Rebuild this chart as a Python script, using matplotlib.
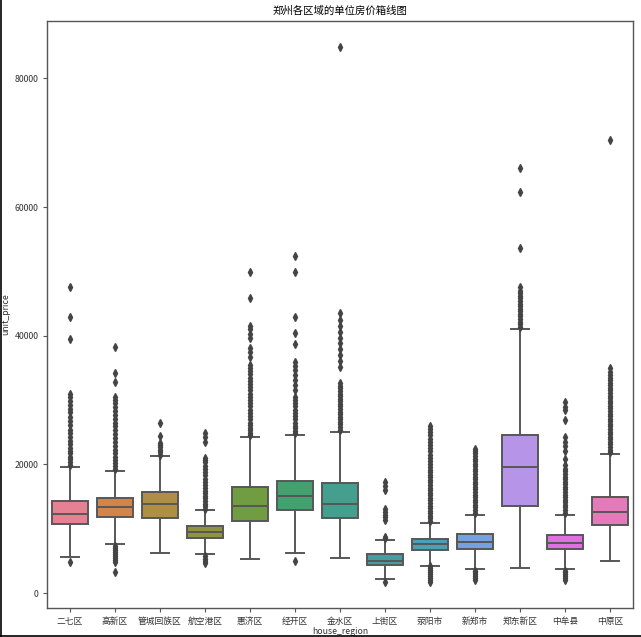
import colorsys
import matplotlib
matplotlib.use('Agg')
import matplotlib.pyplot as plt
from matplotlib.lines import Line2D
import seaborn as sns

# 郑州各区域单位房价 - box statistics
regions = ['二七区', '高新区', '管城回族区', '航空港区', '惠济区', '经开区', '金水区',
           '上街区', '荥阳市', '新郑市', '郑东新区', '中牟县', '中原区']

whislo = [5600, 7600, 6200, 6050, 5350, 6200, 5450, 2200, 4200, 3800, 3900, 3800, 5050]
q1 = [10780, 11870, 11710, 8500, 11200, 12950, 11610, 4300, 6690, 6800, 13580, 6840, 10530]
med = [12330, 13370, 13890, 9490, 13480, 15130, 13840, 5030, 7570, 7980, 19640, 7820, 12600]
q3 = [14310, 14730, 15700, 10420, 16440, 17460, 17060, 6010, 8450, 9130, 24620, 8970, 14980]
whishi = [19600, 19020, 21300, 12860, 24210, 24520, 25080, 8240, 10890, 12180, 41050, 12180, 21570]

fliers = [
    # 二七区
    [4800, 19900, 20300, 20800, 21200, 21700, 22100, 22600, 23100, 23600, 24200, 24800,
     25400, 26100, 26800, 27400, 28100, 28600, 29300, 29900, 30500, 31000, 39450, 42970, 47630],
    # 高新区
    [3300, 4870, 5200, 5500, 5800, 6100, 6400, 6700, 7000, 7300, 19300, 19700, 20200, 20700,
     21200, 21800, 22300, 22900, 23500, 24100, 24700, 25300, 25900, 26500, 27100, 27700,
     28300, 28970, 29500, 30000, 30530, 32860, 34160, 38300],
    # 管城回族区
    [21500, 21900, 22300, 22700, 23000, 23280, 24410, 26430],
    # 航空港区
    [4620, 5000, 5350, 5700, 13100, 13500, 13900, 14300, 14700, 15100, 15500, 15900, 16300,
     16800, 17300, 17800, 18300, 18800, 19300, 19800, 20300, 20700, 21040, 23530, 24200, 24830],
    # 惠济区
    [24500, 24900, 25300, 25700, 26100, 26500, 27000, 27500, 28000, 28500, 29000, 29500,
     30000, 30500, 31000, 31500, 32000, 32500, 33000, 33500, 34000, 34500, 35000, 35450,
     36750, 37400, 38100, 39650, 40300, 41000, 41520, 45820, 49960],
    # 经开区
    [5030, 24800, 25200, 25600, 26000, 26500, 27000, 27500, 28000, 28500, 29000, 29500,
     30000, 30530, 31570, 32300, 33100, 33900, 34700, 35300, 35970, 38720, 40380, 42870,
     49960, 52400],
    # 金水区
    [25400, 25800, 26200, 26600, 27000, 27400, 27800, 28200, 28600, 29000, 29400, 29800,
     30200, 30600, 31000, 31400, 31800, 32200, 32600, 35190, 36000, 37000, 37900, 38800,
     39700, 40600, 41500, 42400, 43490, 84950],
    # 上街区
    [1760, 8500, 8750, 11350, 11800, 12200, 12600, 13000, 16000, 16600, 17300],
    # 荥阳市
    [1760, 2050, 2350, 2650, 2950, 3250, 3550, 3850, 4150, 11200, 11600, 12000, 12400, 12800,
     13200, 13600, 14000, 14400, 14800, 15200, 15600, 16000, 16400, 16800, 17200, 17600,
     18000, 18400, 18800, 19200, 19600, 20000, 20500, 21000, 21500, 22000, 22500, 23000,
     23500, 24000, 24500, 25000, 25500, 26000],
    # 新郑市
    [2020, 2300, 2600, 2900, 3200, 3500, 12500, 12900, 13300, 13700, 14100, 14500, 14900,
     15300, 15700, 16100, 16500, 16900, 17300, 17700, 18100, 18500, 18900, 19300, 19700,
     20100, 20500, 20900, 21300, 21700, 22100, 22440],
    # 郑东新区
    [41400, 41800, 42200, 42600, 43000, 43400, 43800, 44200, 44600, 45000, 45400, 45800,
     46200, 46600, 47000, 47500, 53700, 62400, 66140],
    # 中牟县
    [2020, 2300, 2600, 2900, 3200, 3500, 12500, 12900, 13300, 13700, 14100, 14500, 14900,
     15300, 15700, 16100, 16500, 16900, 17300, 17700, 18100, 18500, 18900, 19300, 19900,
     20800, 22000, 22800, 23500, 24300, 26900, 28460, 28900, 29750],
    # 中原区
    [21900, 22300, 22700, 23100, 23500, 23900, 24300, 24700, 25100, 25500, 25900, 26300,
     26700, 27100, 27500, 27900, 28300, 28700, 29100, 29500, 29900, 30300, 30700, 31100,
     31500, 31900, 32300, 32700, 33100, 33500, 33900, 34300, 34940, 70440],
]

plt.rcParams['font.family'] = ['Noto Sans CJK SC', 'DejaVu Sans']
plt.rcParams['axes.unicode_minus'] = False

pal = [sns.desaturate(c, 0.75) for c in sns.color_palette('husl', len(regions))]
gray = '#575757'

stats = []
for i, name in enumerate(regions):
    stats.append(dict(label=name, med=med[i], q1=q1[i], q3=q3[i],
                      whislo=whislo[i], whishi=whishi[i], fliers=fliers[i]))

fig = plt.figure(figsize=(6.41, 6.37), dpi=100)
ax = fig.add_axes([0.074, 0.0455, 0.913, 0.922])

bp = ax.bxp(stats, positions=range(len(regions)), widths=0.8, patch_artist=True,
            boxprops=dict(edgecolor=gray, linewidth=1.4),
            medianprops=dict(color=gray, linewidth=1.4),
            whiskerprops=dict(color=gray, linewidth=1.4),
            capprops=dict(color=gray, linewidth=1.4),
            flierprops=dict(marker='d', markersize=4.2, markerfacecolor='#444444',
                            markeredgecolor='#444444', linestyle='none'))
for patch, c in zip(bp['boxes'], pal):
    patch.set_facecolor(c)

ax.set_xlim(-0.5, len(regions) - 0.5)
ax.set_ylim(-2330, 88960)
ax.set_yticks([0, 20000, 40000, 60000, 80000])
ax.set_xticks(range(len(regions)))
ax.set_xticklabels(regions)
ax.tick_params(labelsize=6.3, length=3, color='#555555', labelcolor='#333333')
for s in ax.spines.values():
    s.set_color('#555555')
    s.set_linewidth(1.0)

ax.set_xlabel('house_region', fontsize=6.3, labelpad=1, color='#333333')
ax.set_ylabel('unit_price', fontsize=6.3, color='#333333')
ax.yaxis.set_label_coords(-0.063, 0.5)
ax.set_title('郑州各区域的单位房价箱线图', fontsize=7.5, pad=5)

# screenshot frame on left and bottom edges
fig.add_artist(Line2D([0.0008, 0.0008], [0, 1], color='black', linewidth=1.2, transform=fig.transFigure))
fig.add_artist(Line2D([0, 1], [0.0008, 0.0008], color='black', linewidth=1.2, transform=fig.transFigure))

fig.savefig('out.png', dpi=100)
